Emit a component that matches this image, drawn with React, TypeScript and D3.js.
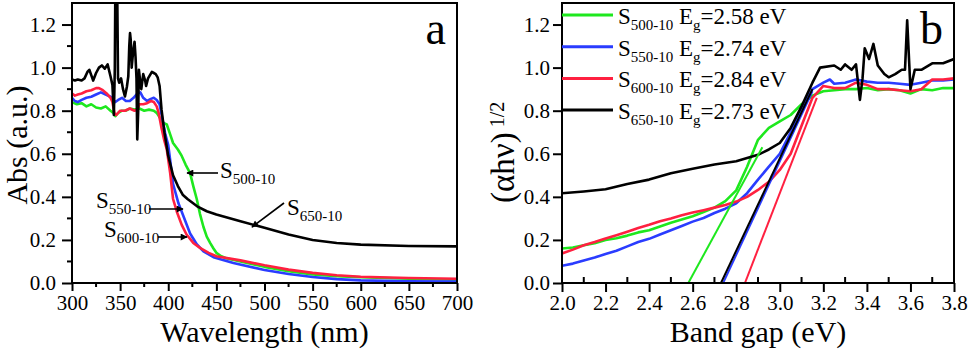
import * as d3 from 'd3'
import { useEffect, useRef } from 'react'

// panel a: absorbance vs wavelength (nm)
const greenA = [[300,0.84],[305,0.83],[310,0.835],[315,0.82],[320,0.83],[325,0.815],[330,0.81],[335,0.82],[340,0.8],[343,0.79],[345,0.775],[348,0.79],[352,0.8],[356,0.8],[360,0.81],[365,0.805],[370,0.81],[375,0.8],[380,0.805],[385,0.8],[388,0.79],[391,0.77],[394,0.745],[398.5,0.736],[402,0.69],[405,0.65],[410,0.62],[414,0.59],[418,0.55],[422.7,0.51],[426,0.45],[429.6,0.39],[433,0.32],[436.6,0.26],[440,0.215],[443.5,0.186],[447,0.16],[450,0.14],[454,0.127],[460,0.115],[475,0.1],[500,0.075],[525,0.055],[550,0.04],[575,0.032],[600,0.027],[650,0.02],[700,0.015]]
const blueA = [[300,0.86],[303,0.845],[306,0.84],[310,0.85],[315,0.86],[320,0.865],[325,0.875],[330,0.885],[335,0.875],[340,0.865],[343,0.85],[345,0.84],[348,0.85],[352,0.86],[356,0.845],[360,0.845],[364,0.86],[368,0.88],[371,0.885],[374,0.86],[378,0.845],[382,0.855],[385,0.86],[388,0.85],[391,0.83],[394,0.76],[397,0.69],[400,0.64],[402,0.57],[405,0.46],[410.6,0.37],[415.8,0.31],[422.7,0.23],[429.6,0.18],[436.6,0.147],[447,0.12],[467.7,0.093],[500,0.06],[525,0.042],[550,0.028],[575,0.018],[600,0.012],[650,0.008],[700,0.007]]
const redA = [[300,0.88],[303,0.87],[306,0.875],[310,0.88],[315,0.89],[320,0.895],[325,0.905],[328,0.905],[332,0.895],[336,0.88],[340,0.86],[342,0.84],[344,0.79],[346,0.78],[350,0.8],[355,0.8],[360,0.81],[365,0.8],[368,0.805],[370,0.83],[374,0.83],[378,0.835],[382,0.845],[385,0.84],[388,0.82],[390,0.79],[393,0.72],[396,0.66],[398.5,0.62],[402,0.51],[405,0.39],[409,0.33],[414,0.27],[419,0.225],[426,0.186],[433,0.163],[442,0.14],[450,0.124],[475,0.105],[500,0.082],[525,0.062],[550,0.047],[575,0.036],[600,0.029],[650,0.023],[700,0.02]]
const blackA = [[300,0.945],[303,0.94],[306,0.945],[310,0.94],[313,0.95],[316,0.98],[318,0.99],[320,0.965],[322,0.94],[325,0.975],[328,1.0],[331,1.01],[334,0.995],[337,1.015],[340,0.96],[342,0.92],[343.5,0.78],[344.5,1.0],[345,1.35],[347,1.35],[347.8,0.95],[349,0.93],[351,0.95],[353,0.9],[355,0.866],[357,0.91],[358.5,0.96],[359.5,1.1],[360.3,1.16],[361,1.13],[362,1.0],[363,1.05],[364,1.09],[365,1.12],[366,1.05],[367,0.95],[367.8,0.667],[368.8,0.8],[369.5,0.99],[371,0.93],[372,0.9],[374,0.97],[376,0.94],[377,0.915],[379,0.95],[381,0.965],[383,0.98],[385,0.975],[387,0.97],[389,0.955],[391,0.915],[393,0.806],[396,0.7],[400,0.59],[405,0.5],[410,0.45],[415,0.41],[420,0.39],[430,0.356],[440,0.333],[450,0.318],[475,0.287],[500,0.256],[525,0.225],[550,0.2],[575,0.186],[600,0.178],[650,0.172],[700,0.17]]

// panel b: (ahv)^1/2 vs band gap (eV)
const greenB = [[2.0,0.16],[2.05,0.165],[2.1,0.175],[2.15,0.185],[2.2,0.2],[2.25,0.208],[2.3,0.22],[2.35,0.235],[2.4,0.245],[2.45,0.262],[2.5,0.28],[2.55,0.295],[2.6,0.31],[2.65,0.33],[2.7,0.35],[2.75,0.38],[2.8,0.43],[2.85,0.54],[2.9,0.665],[2.95,0.72],[3.0,0.75],[3.05,0.78],[3.1,0.83],[3.15,0.87],[3.2,0.89],[3.25,0.895],[3.3,0.9],[3.35,0.9],[3.4,0.905],[3.45,0.895],[3.5,0.9],[3.55,0.895],[3.6,0.88],[3.65,0.9],[3.7,0.895],[3.75,0.905],[3.8,0.905]]
const blueB = [[2.0,0.08],[2.05,0.09],[2.1,0.105],[2.15,0.118],[2.2,0.135],[2.25,0.15],[2.3,0.17],[2.35,0.19],[2.4,0.205],[2.45,0.225],[2.5,0.245],[2.55,0.265],[2.6,0.285],[2.65,0.302],[2.7,0.325],[2.75,0.345],[2.8,0.37],[2.85,0.417],[2.9,0.48],[2.95,0.54],[3.0,0.6],[3.05,0.7],[3.1,0.805],[3.15,0.9],[3.2,0.93],[3.23,0.945],[3.25,0.925],[3.3,0.93],[3.35,0.945],[3.4,0.935],[3.45,0.93],[3.5,0.93],[3.55,0.925],[3.6,0.92],[3.65,0.93],[3.7,0.94],[3.75,0.94],[3.8,0.945]]
const redB = [[2.0,0.137],[2.05,0.155],[2.1,0.175],[2.15,0.19],[2.2,0.207],[2.25,0.222],[2.3,0.238],[2.35,0.255],[2.4,0.27],[2.45,0.287],[2.5,0.3],[2.55,0.315],[2.6,0.327],[2.65,0.338],[2.7,0.35],[2.75,0.362],[2.8,0.378],[2.85,0.4],[2.9,0.432],[2.95,0.47],[3.0,0.525],[3.05,0.6],[3.1,0.73],[3.15,0.86],[3.2,0.915],[3.25,0.905],[3.3,0.905],[3.35,0.93],[3.4,0.92],[3.45,0.9],[3.5,0.9],[3.55,0.895],[3.6,0.89],[3.65,0.9],[3.7,0.945],[3.75,0.945],[3.8,0.95]]
const blackB = [[2.0,0.417],[2.1,0.425],[2.2,0.435],[2.3,0.46],[2.4,0.48],[2.5,0.51],[2.6,0.53],[2.7,0.55],[2.8,0.565],[2.85,0.58],[2.9,0.595],[2.95,0.62],[3.0,0.65],[3.05,0.72],[3.1,0.82],[3.15,0.93],[3.185,1.0],[3.25,1.01],[3.28,0.99],[3.3,1.015],[3.33,0.99],[3.35,1.015],[3.368,0.85],[3.38,0.95],[3.39,1.09],[3.41,1.04],[3.43,1.11],[3.45,1.01],[3.48,0.97],[3.5,0.955],[3.53,0.97],[3.56,0.99],[3.575,0.99],[3.585,1.22],[3.6,0.9],[3.62,0.99],[3.65,0.99],[3.7,1.02],[3.75,1.02],[3.8,1.04]]

const sampleNames = ['500-10', '550-10', '600-10', '650-10']
const bandGaps = [2.58, 2.74, 2.84, 2.73]
const tangentTop = [[2.92, 0.63], [3.15, 0.89], [3.17, 0.86], [3.15, 0.9]]
const colors = ['#1ee81e', '#2a3cff', '#ff2040', '#000000']

const W = 969
const H = 351
const FONT = 'Liberation Serif'

const App = () => {
  const ref = useRef(null)

  useEffect(() => {
    const svg = d3.select(ref.current)
    svg.selectAll('*').remove()

    const defs = svg.append('defs')
    defs
      .append('marker')
      .attr('id', 'arr')
      .attr('viewBox', '0 0 10 10')
      .attr('refX', 9)
      .attr('refY', 5)
      .attr('markerWidth', 9)
      .attr('markerHeight', 7)
      .attr('markerUnits', 'userSpaceOnUse')
      .attr('orient', 'auto')
      .append('path')
      .attr('d', 'M0,0L10,5L0,10z')
      .attr('fill', '#000')

    // label with subscripted parts: parts = [[text, isSub], ...]
    function richText(g, x, y, parts, size, subSize) {
      var t = g
        .append('text')
        .attr('x', x)
        .attr('y', y)
        .style('font-family', FONT)
        .style('font-size', size + 'px')
      var down = false
      parts.forEach(function (p) {
        var s = t.append('tspan').text(p[0])
        if (p[1]) {
          s.style('font-size', subSize + 'px')
          if (!down) s.attr('dy', 6)
          down = true
        } else if (down) {
          s.attr('dy', -6)
          down = false
        }
      })
      return t
    }

    function panel(opts) {
      var box = opts.box
      var x = d3.scaleLinear().domain(opts.xDomain).range([box.left, box.right])
      var y = d3.scaleLinear().domain([0, 1.3]).range([box.bottom, box.top])
      var g = svg.append('g')

      var clipId = 'clip-' + opts.id
      defs
        .append('clipPath')
        .attr('id', clipId)
        .append('rect')
        .attr('x', box.left)
        .attr('y', box.top)
        .attr('width', box.right - box.left)
        .attr('height', box.bottom - box.top)

      // minor ticks (plain lines, no labels)
      var minor = g.append('g').attr('stroke', '#000').attr('stroke-width', 2)
      opts.xMinor.forEach(function (v) {
        minor
          .append('line')
          .attr('x1', x(v))
          .attr('x2', x(v))
          .attr('y1', box.bottom)
          .attr('y2', box.bottom + opts.xMinorSize)
      })
      if (opts.yMinor)
        opts.yMinor.forEach(function (v) {
          minor
            .append('line')
            .attr('x1', box.left)
            .attr('x2', box.left - 5)
            .attr('y1', y(v))
            .attr('y2', y(v))
        })

      // major ticks
      g.append('g')
        .attr('transform', 'translate(0,' + box.bottom + ')')
        .call(
          d3.axisBottom(x).tickValues(opts.xMajor).tickSize(opts.xTick).tickPadding(opts.xPad).tickFormat(opts.xFormat),
        )
      g.append('g')
        .attr('transform', 'translate(' + box.left + ',0)')
        .call(
          d3.axisLeft(y).tickValues(d3.range(0, 1.21, 0.2)).tickSize(opts.yTick).tickPadding(opts.yPad).tickFormat(d3.format('.1f')),
        )

      g.selectAll('.domain').remove()
      g.selectAll('.tick line').attr('stroke', '#000').attr('stroke-width', 2)
      g.selectAll('.tick text')
        .style('font-family', FONT)
        .style('font-size', '21px')
        .attr('fill', '#000')

      var line = d3
        .line()
        .x((d) => x(d[0]))
        .y((d) => y(d[1]))

      var plot = g.append('g').attr('clip-path', 'url(#' + clipId + ')')
      opts.series.forEach(function (s, i) {
        plot
          .append('path')
          .attr('d', line(s))
          .attr('fill', 'none')
          .attr('stroke', colors[i])
          .attr('stroke-width', 2.6)
          .attr('stroke-linejoin', 'round')
      })

      g.append('rect')
        .attr('x', box.left)
        .attr('y', box.top)
        .attr('width', box.right - box.left)
        .attr('height', box.bottom - box.top)
        .attr('fill', 'none')
        .attr('stroke', '#000')
        .attr('stroke-width', 2)

      g.append('text')
        .attr('x', (box.left + box.right) / 2)
        .attr('y', 342)
        .attr('text-anchor', 'middle')
        .style('font-family', FONT)
        .style('font-size', '30px')
        .text(opts.xTitle)

      g.append('text')
        .attr('x', box.right - 11)
        .attr('y', 44)
        .attr('text-anchor', 'end')
        .style('font-family', FONT)
        .style('font-size', '46px')
        .text(opts.id)

      return { g: g, x: x, y: y, plot: plot }
    }

    // ---- panel a
    var pa = panel({
      id: 'a',
      box: { left: 72, right: 457, top: 3, bottom: 283 },
      xDomain: [300, 700],
      xMajor: d3.range(300, 701, 50),
      xMinor: d3.range(325, 700, 50),
      xMinorSize: 4,
      xTick: 8,
      xPad: 4,
      xFormat: d3.format('d'),
      yMinor: d3.range(0.1, 1.3, 0.2),
      yTick: 10,
      yPad: 6,
      xTitle: 'Wavelength (nm)',
      series: [greenA, blueA, redA, blackA],
    })
    pa.g
      .append('text')
      .attr('transform', 'translate(27,145) rotate(-90)')
      .attr('text-anchor', 'middle')
      .style('font-family', FONT)
      .style('font-size', '30px')
      .text('Abs (a.u.)')

    // curve labels with arrows
    var ann = [
      { name: sampleNames[0], tx: 220, ty: 178, from: [218, 173], to: [187, 173] },
      { name: sampleNames[1], tx: 96, ty: 208, from: [149, 209], to: [183, 209] },
      { name: sampleNames[2], tx: 104, ty: 237, from: [158, 237], to: [187, 237] },
      { name: sampleNames[3], tx: 287, ty: 215, from: [284, 203], to: [252, 227] },
    ]
    ann.forEach(function (a) {
      pa.g
        .append('line')
        .attr('x1', a.from[0])
        .attr('y1', a.from[1])
        .attr('x2', a.to[0])
        .attr('y2', a.to[1])
        .attr('stroke', '#000')
        .attr('stroke-width', 1.6)
        .attr('marker-end', 'url(#arr)')
      richText(pa.g, a.tx, a.ty, [['S', false], [a.name, true]], 23, 15)
    })

    // ---- panel b
    var pb = panel({
      id: 'b',
      box: { left: 562, right: 954, top: 3, bottom: 283 },
      xDomain: [2.0, 3.8],
      xMajor: d3.range(2.0, 3.81, 0.2),
      xMinor: d3.range(2.1, 3.8, 0.2),
      xMinorSize: -6,
      xTick: 9,
      xPad: 3,
      xFormat: d3.format('.1f'),
      yMinor: null,
      yTick: 9,
      yPad: 3,
      xTitle: 'Band gap (eV)',
      series: [greenB, blueB, redB, blackB],
    })

    // linear fits to the absorption edge
    bandGaps.forEach(function (eg, i) {
      pb.plot
        .append('line')
        .attr('x1', pb.x(eg))
        .attr('y1', pb.y(0))
        .attr('x2', pb.x(tangentTop[i][0]))
        .attr('y2', pb.y(tangentTop[i][1]))
        .attr('stroke', colors[i])
        .attr('stroke-width', 2)
    })

    var yl = pb.g
      .append('text')
      .attr('transform', 'translate(514,203) rotate(-90)')
      .attr('text-anchor', 'start')
      .style('font-family', FONT)
      .style('font-size', '33px')
    yl.append('tspan').text('(αhν)')
    yl.append('tspan').style('font-size', '20px').attr('dx', 5).attr('dy', -10).text('1/2')

    // legend
    bandGaps.forEach(function (eg, i) {
      var ly = 15 + i * 31.7
      pb.g
        .append('line')
        .attr('x1', 562)
        .attr('x2', 613)
        .attr('y1', ly)
        .attr('y2', ly)
        .attr('stroke', colors[i])
        .attr('stroke-width', 3)
      richText(
        pb.g,
        618,
        ly + 9,
        [['S', false], [sampleNames[i], true], [' E', false], ['g', true], ['=' + eg.toFixed(2) + ' eV', false]],
        23,
        15,
      )
    })
  }, [])

  return (
    <svg
      ref={ref}
      width={W}
      height={H}
      style={{ position: 'absolute', left: 0, top: 0, background: '#fff' }}
    />
  )
}

export default App
